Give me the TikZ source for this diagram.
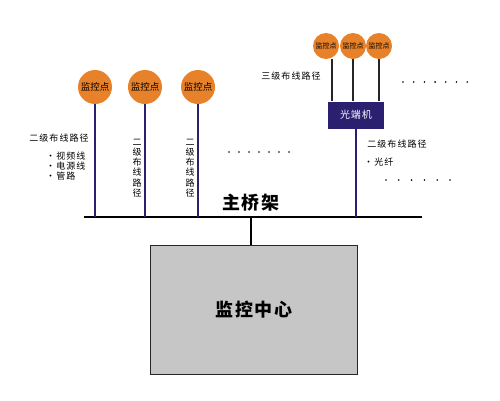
\documentclass[tikz,border=0pt]{standalone}
\usepackage{fontspec}
\setmainfont{Noto Sans CJK SC}
\usepackage{tikz}
\usetikzlibrary{positioning}
\definecolor{ptorange}{HTML}{E8822A}
\definecolor{fibreblue}{HTML}{2B1F70}
\definecolor{centergray}{HTML}{C6C6C6}

\begin{document}
\begin{tikzpicture}[x=1pt,y=-1pt]
    % Setup the styles
        \tikzset{point style/.style={circle,
                                     minimum size=34pt,
                                     inner sep=0pt,
                                     fill=ptorange,
                                     font=\fontsize{9.5}{10}\selectfont},
                 small point/.style={point style,
                                     minimum size=26pt,
                                     font=\fontsize{7}{8}\selectfont},
                 label text/.style={font=\fontsize{9}{10.2}\selectfont\addfontfeature{LetterSpace=12},
                                    inner sep=0pt},
                 vert text/.style={label text, align=center},
                 title text/.style={font=\bfseries\fontsize{18}{20}\selectfont\addfontfeature{LetterSpace=10},
                                    inner sep=0pt},
                 dot/.style={fill=black, radius=0.9pt}}
        \useasboundingbox (0,0) rectangle (500,400);
        % Draw the center and the bridge
        \node[draw=black!85, line width=1.6pt, fill=centergray,
              minimum width=207pt, minimum height=129pt, title text]
              at (254,310) (center) {监控中心};
        \coordinate (bridgeL) at (84,217);
        \coordinate (bridgeR) at (422,217);
        \draw[line width=2.6pt] (bridgeL) -- (bridgeR);
        \node[title text] at (251,203) (bridge) {主桥架};
        \coordinate (bridgeC) at (251,217);
        \draw[line width=1.6pt] (bridgeC) -- (bridgeC |- center.north);
        % Draw the left points
        \node[point style] at (95,87)  (pa) {监控点};
        \node[point style] at (145,87) (pb) {监控点};
        \node[point style] at (198,87) (pc) {监控点};
        \coordinate (fa) at (95,217);
        \coordinate (fb) at (145,217);
        \coordinate (fc) at (198,217);
        \draw[line width=1.3pt, fibreblue]
        (pa) -- (fa)
        (pb) -- (fb)
        (pc) -- (fc);
        % Labels of the left paths
        \node[label text] at (59,138) (lvla) {二级布线路径};
        \node[label text, anchor=west] at (46,156) (bla) {•视频线};
        \node[label text, anchor=west] at (46,166) (blb) {•电源线};
        \node[label text, anchor=west] at (46,176) (blc) {•管路};
        \node[vert text] at (137,168) (lvlb) {二\\级\\布\\线\\路\\径};
        \node[vert text] at (190,168) (lvlc) {二\\级\\布\\线\\路\\径};
        \foreach \x in {0,...,6} \fill[dot] (229+10*\x,152) circle;
        % Draw the optical terminal
        \node[small point] at (326,46) (pd) {监控点};
        \node[small point] at (353,46) (pe) {监控点};
        \node[small point] at (379,46) (pf) {监控点};
        \node[fill=fibreblue, text=white, minimum width=56pt, minimum height=27pt,
              inner sep=0pt, font=\fontsize{10}{11}\selectfont\addfontfeature{LetterSpace=8}]
              at (356,115) (term) {光端机};
        \draw[line width=1.1pt, black!85]
        (pd.south) ++(6,0) coordinate (pdd) -- (pdd |- term.north)
        (pe) -- (pe |- term.north)
        (pf) -- (pf |- term.north);
        \coordinate (fd) at (356,217);
        \draw[line width=1.3pt, fibreblue] (term) -- (fd);
        % Labels of the right paths
        \node[label text] at (291,76) (lvld) {三级布线路径};
        \foreach \x in {0,...,6} \fill[dot] (403+10.7*\x,82) circle;
        \node[label text] at (397,144) (lvle) {二级布线路径};
        \node[label text, anchor=west] at (364,162) (ble) {•光纤};
        \foreach \x in {0,...,5} \fill[dot] (386+12.8*\x,180) circle;
\end{tikzpicture}
\end{document}
